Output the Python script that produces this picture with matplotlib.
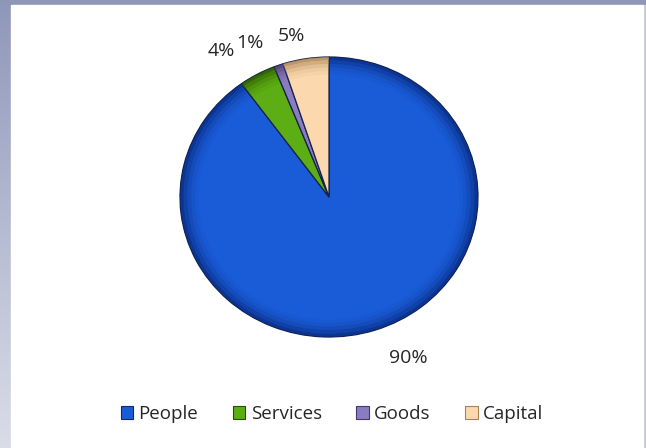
import numpy as np
import matplotlib.pyplot as plt
from matplotlib.patches import Rectangle, Wedge
from matplotlib.colors import to_rgb

plt.rcParams['font.family'] = ['Open Sans', 'DejaVu Sans']

categories = ['People', 'Services', 'Goods', 'Capital']
shares = [90, 4, 1, 5]
pct_labels = ['90%', '4%', '1%', '5%']

face_colors = ['#1a5cd8', '#5cae14', '#8a7cc0', '#fcd8ae']
rim_colors = ['#08287a', '#264e00', '#463872', '#a88255']

# where each percentage label sits (axes data units, pie radius = 1)
label_xy = [(0.53, -1.15), (-0.72, 1.04), (-0.53, 1.10), (-0.25, 1.15)]

W, H = 646, 448
fig = plt.figure(figsize=(W / 100, H / 100), dpi=100)

# outer frame with a soft vertical gradient
bg = fig.add_axes([0, 0, 1, 1])
bg.set_axis_off()
top = np.array(to_rgb('#8f97b9'))
bot = np.array(to_rgb('#dadde8'))
t = np.linspace(0, 1, 200)[:, None, None]
grad = top * (1 - t) + bot * t
bg.imshow(np.repeat(grad, 2, axis=1), aspect='auto', extent=[0, 1, 0, 1])
bg.add_patch(Rectangle((643 / W, 0), 3 / W, 1 - 5 / H, color='#c4c6ce'))
bg.add_patch(Rectangle((11 / W, 0), 632 / W, 1 - 5 / H, color='white'))
bg.set_xlim(0, 1)
bg.set_ylim(0, 1)

# pie area: centre (329, 197) px, radii 149 x 140 px
cx, cy, rx, ry, k = 329, 197, 149, 140, 1.5
ax = fig.add_axes([(cx - rx * k) / W, (H - cy - ry * k) / H,
                   2 * rx * k / W, 2 * ry * k / H])
ax.set_axis_off()

wedges, _ = ax.pie(shares, colors=face_colors, startangle=90,
                   counterclock=False, radius=1,
                   wedgeprops=dict(edgecolor='#14224a', linewidth=0.9))

# darker bevel near the rim of each slice
for w, rc in zip(wedges, rim_colors):
    for r0, a in [(1.0, 0.75), (0.975, 0.5), (0.95, 0.3), (0.925, 0.15),
                  (0.9, 0.06)]:
        ax.add_patch(Wedge((0, 0), r0, w.theta1, w.theta2, width=0.025,
                           facecolor=rc, edgecolor='none', alpha=a))

for txt, (x, y) in zip(pct_labels, label_xy):
    ax.text(x, y, txt, ha='center', va='center', fontsize=14,
            color='#262626')

ax.set_xlim(-k, k)
ax.set_ylim(-k, k)
ax.set_aspect('auto')

# legend row along the bottom
handles = [Rectangle((0, 0), 1, 1, facecolor=fc, edgecolor=rc, linewidth=0.8)
           for fc, rc in zip(face_colors, rim_colors)]
fig.legend(handles, categories, loc='center', ncol=4,
           bbox_to_anchor=(332 / W, 1 - 414 / H), frameon=False,
           fontsize=13.5, handlelength=0.65, handleheight=0.65,
           handletextpad=0.3, columnspacing=1.85, labelcolor='#262626')

fig.savefig('out.png', dpi=100)
